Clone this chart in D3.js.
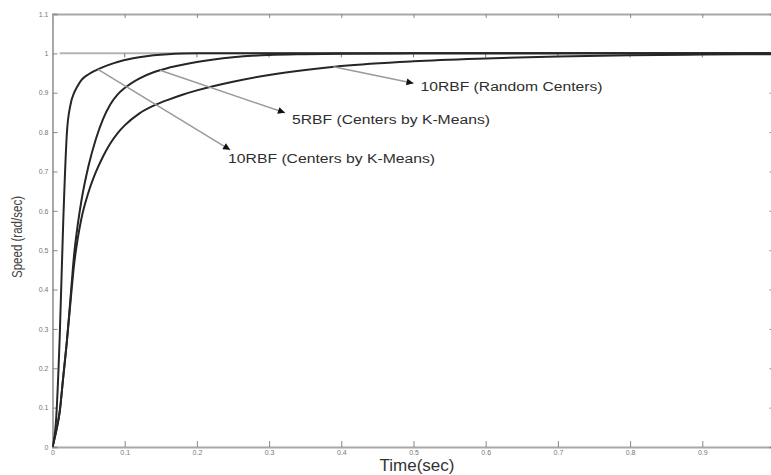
<!DOCTYPE html>
<html>
<head>
<meta charset="utf-8">
<script src="https://cdn.jsdelivr.net/npm/d3@7"></script>
<style>
  html, body { margin: 0; padding: 0; background: #fff; }
  svg { display: block; }
</style>
</head>
<body>
<svg id="chart" width="771" height="475"></svg>
<script>
// ---- data ----
const time = [0, 0.005, 0.01, 0.015, 0.02, 0.025, 0.03, 0.035, 0.04, 0.05, 0.06, 0.07, 0.08, 0.09, 0.1,
  0.12, 0.14, 0.16, 0.18, 0.2, 0.25, 0.3, 0.35, 0.4, 0.5, 0.6, 0.7, 0.8, 0.9, 1.0];
const speed10RbfKMeans = [0, 0.07, 0.28, 0.58, 0.8, 0.87, 0.9, 0.918, 0.932, 0.947, 0.957, 0.965, 0.972, 0.978, 0.983,
  0.99, 0.995, 0.998, 0.9995, 1.0, 1.0, 1.0, 1.0, 1.0, 1.0, 1.0, 1.0, 1.0, 1.0, 1.0];
const speed5RbfKMeans = [0, 0.04, 0.09, 0.18, 0.27, 0.38, 0.49, 0.565, 0.625, 0.715, 0.782, 0.833, 0.87, 0.895, 0.912,
  0.936, 0.952, 0.963, 0.971, 0.978, 0.99, 0.996, 0.998, 0.999, 1.0, 1.0, 1.0, 1.0, 1.0, 1.0];
const speed10RbfRandom = [0, 0.04, 0.09, 0.18, 0.27, 0.37, 0.465, 0.53, 0.58, 0.648, 0.698, 0.738, 0.771, 0.797, 0.817,
  0.847, 0.867, 0.882, 0.895, 0.906, 0.928, 0.945, 0.958, 0.968, 0.98, 0.987, 0.992, 0.995, 0.997, 0.998];
const referenceTime = [0.01, 1.0];
const referenceSpeed = [1, 1];
const xTicks = [0, 0.1, 0.2, 0.3, 0.4, 0.5, 0.6, 0.7, 0.8, 0.9];
const yTicks = [0, 0.1, 0.2, 0.3, 0.4, 0.5, 0.6, 0.7, 0.8, 0.9, 1, 1.1];
const seriesNames = ["10RBF (Centers by K-Means)", "5RBF (Centers by K-Means)", "10RBF (Random Centers)"];
// annotation: time of arrow start on the curve, arrow tip in data units
const annotStartT = [0.063, 0.149, 0.389];
const annotTipT = [0.246, 0.322, 0.5];
const annotTipV = [0.755, 0.849, 0.924];

// ---- layout ----
const svg = d3.select("#chart");
const L = 52.5, R = 774.5, T = 14, B = 447;
const x = d3.scaleLinear().domain([0, 1]).range([L, R]);
const y = d3.scaleLinear().domain([0, 1.1]).range([B, T]);

const defs = svg.append("defs");
defs.append("clipPath").attr("id", "clip").append("rect")
  .attr("x", L).attr("y", T).attr("width", R - L).attr("height", B - T);
defs.append("marker").attr("id", "arrow").attr("viewBox", "0 0 10 10")
  .attr("refX", 10).attr("refY", 5).attr("markerWidth", 9).attr("markerHeight", 7)
  .attr("markerUnits", "userSpaceOnUse").attr("orient", "auto")
  .append("path").attr("d", "M0,0 L10,5 L0,10 Z").attr("fill", "#111");

const axisColor = "#a8a8a8";
const tickFmt = d => d === 0 ? "0" : d3.format("~g")(d);

// bottom axis
const gx = svg.append("g").attr("transform", `translate(0,${B})`)
  .call(d3.axisBottom(x).tickValues(xTicks).tickSize(-6).tickPadding(3).tickFormat(tickFmt));
// top axis
const gxt = svg.append("g").attr("transform", `translate(0,${T})`)
  .call(d3.axisTop(x).tickValues(xTicks).tickSize(-4).tickFormat(""));
// left axis
const gy = svg.append("g").attr("transform", `translate(${L},0)`)
  .call(d3.axisLeft(y).tickValues(yTicks).tickSize(-5).tickPadding(4).tickFormat(tickFmt));
// right axis
const gyr = svg.append("g").attr("transform", `translate(${R},0)`)
  .call(d3.axisRight(y).tickValues(yTicks).tickSize(-5).tickFormat(""));

[gx, gxt, gy, gyr].forEach(g => {
  g.select(".domain").attr("stroke", axisColor).attr("stroke-width", 2);
  g.selectAll(".tick line").attr("stroke", "#888").attr("stroke-width", 1);
  g.selectAll(".tick text").attr("fill", "#777").attr("font-family", "Liberation Sans, Arial, sans-serif")
    .attr("font-size", 7);
});

const plot = svg.append("g").attr("clip-path", "url(#clip)");

// reference line at speed 1 with its little ticks
const refLine = d3.line().x((d, i) => x(referenceTime[i])).y(d => y(d));
plot.append("path").datum(referenceSpeed).attr("d", refLine)
  .attr("fill", "none").attr("stroke", "#b4b4b4").attr("stroke-width", 2);
plot.selectAll(".refTick").data(xTicks.filter(d => d >= 0.1)).join("line")
  .attr("x1", d => x(d)).attr("x2", d => x(d))
  .attr("y1", y(1)).attr("y2", y(1) + 4)
  .attr("stroke", "#777").attr("stroke-width", 1);

// curves
const allSeries = [speed10RbfKMeans, speed5RbfKMeans, speed10RbfRandom];
const line = d3.line().x((d, i) => x(time[i])).y(d => y(d)).curve(d3.curveMonotoneX);
allSeries.forEach(s => {
  plot.append("path").datum(s).attr("d", line)
    .attr("fill", "none").attr("stroke", "#262626").attr("stroke-width", 2);
});

// annotations
function valueAt(s, t) {
  const i = Math.max(1, d3.bisectLeft(time, t));
  const t0 = time[i - 1], t1 = time[i];
  return s[i - 1] + (s[i] - s[i - 1]) * (t - t0) / (t1 - t0);
}
const labelDx = [-2, 7, 7], labelDy = [13, 11, 8], labelW = [207, 198, 182];
allSeries.forEach((s, k) => {
  const x0 = x(annotStartT[k]), y0 = y(valueAt(s, annotStartT[k]));
  const x1 = x(annotTipT[k]), y1 = y(annotTipV[k]);
  svg.append("line").attr("x1", x0).attr("y1", y0).attr("x2", x1).attr("y2", y1)
    .attr("stroke", "#9a9a9a").attr("stroke-width", 1.5).attr("marker-end", "url(#arrow)");
  svg.append("text").attr("x", x1 + labelDx[k]).attr("y", y1 + labelDy[k])
    .attr("font-family", "Liberation Sans, Arial, sans-serif").attr("font-size", 12.5)
    .attr("fill", "#2e2e2e").attr("textLength", labelW[k]).attr("lengthAdjust", "spacingAndGlyphs")
    .text(seriesNames[k]);
});

// axis titles
svg.append("text").attr("x", 417).attr("y", 471).attr("text-anchor", "middle")
  .attr("font-family", "Liberation Sans, Arial, sans-serif").attr("font-size", 17)
  .attr("fill", "#333").text("Time(sec)");
svg.append("text").attr("transform", "translate(22,237) rotate(-90)").attr("text-anchor", "middle")
  .attr("font-family", "Liberation Sans, Arial, sans-serif").attr("font-size", 14)
  .attr("fill", "#444").attr("textLength", 82).attr("lengthAdjust", "spacingAndGlyphs")
  .text("Speed (rad/sec)");
</script>
</body>
</html>
